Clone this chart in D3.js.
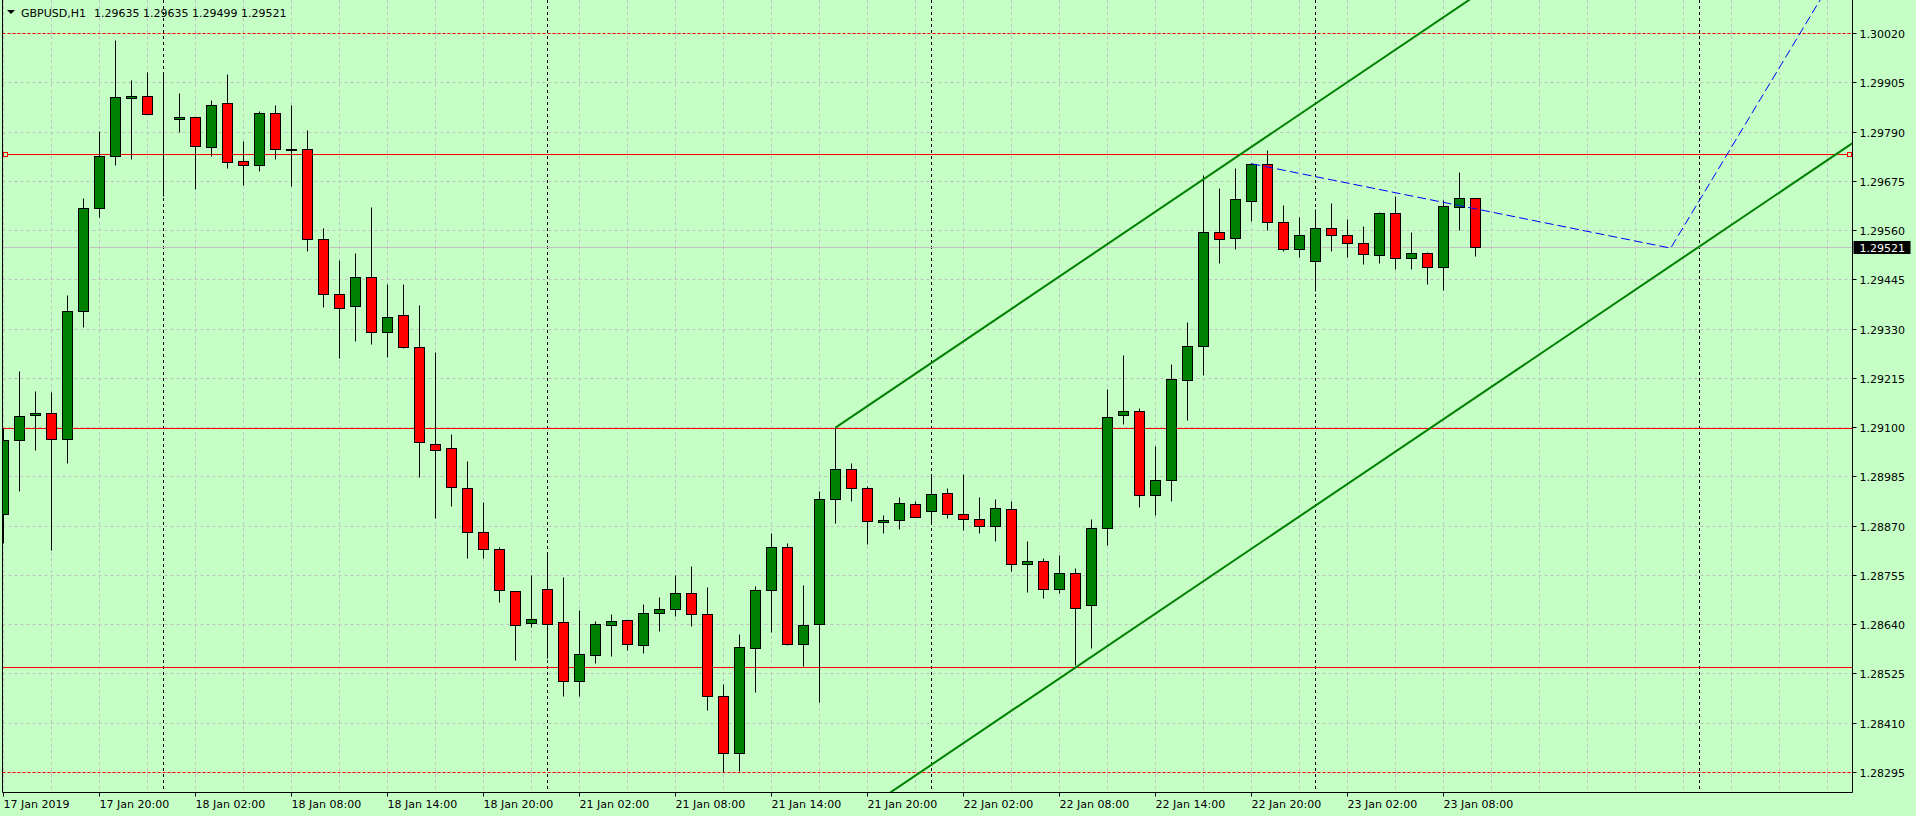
<!DOCTYPE html>
<html>
<head>
<meta charset="utf-8">
<script src="https://cdn.jsdelivr.net/npm/d3@7"></script>
<style>
	html, body { margin: 0; padding: 0; background: #c6ffc6; overflow: hidden; }
	svg { display: block; }
	text { font-family: "DejaVu Sans", sans-serif; font-size: 11px; fill: #000; }
</style>
</head>
<body>
<svg id="chart"></svg>
<script>
const totalWidth = 1916;
const totalHeight = 816;
const plot = { left: 2.5, right: 1852.5, top: 0, bottom: 792.5 };
const barStep = 16;

const symbolName = "GBPUSD,H1";
const lastQuote = "1.29635 1.29635 1.29499 1.29521";
const bidPrice = 1.29521;

// hourly bars, first one is 17 Jan 2019 14:00
const opens = [
	1.28898, 1.29069, 1.29129, 1.29134, 1.29073, 1.29372, 1.29611, 1.29732, 1.29868, 1.29872,
	1.29819, 1.29819, 1.29825, 1.29754, 1.29856, 1.29721, 1.29711, 1.29833, 1.29750, 1.29749,
	1.29538, 1.29410, 1.29382, 1.29450, 1.29321, 1.29361, 1.29286, 1.29061, 1.29052, 1.28958,
	1.28855, 1.28816, 1.28718, 1.28643, 1.28722, 1.28645, 1.28508, 1.28568, 1.28638, 1.28650,
	1.28592, 1.28666, 1.28676, 1.28713, 1.28664, 1.28472, 1.28339, 1.28585, 1.28720, 1.28820,
	1.28594, 1.28641, 1.28933, 1.29002, 1.28958, 1.28878, 1.28883, 1.28920, 1.28904, 1.28946,
	1.28897, 1.28885, 1.28869, 1.28909, 1.28780, 1.28787, 1.28721, 1.28759, 1.28684, 1.28864,
	1.29128, 1.29137, 1.28941, 1.28976, 1.29210, 1.29289, 1.29555, 1.29541, 1.29627, 1.29714,
	1.29578, 1.29515, 1.29487, 1.29564, 1.29548, 1.29529, 1.29501, 1.29599, 1.29494, 1.29506,
	1.29473, 1.29613, 1.29635
];
const highs = [
	1.29099, 1.29230, 1.29184, 1.29182, 1.29409, 1.29636, 1.29791, 1.30004, 1.29910, 1.29929,
	1.29928, 1.29880, 1.29825, 1.29863, 1.29924, 1.29768, 1.29837, 1.29853, 1.29853, 1.29793,
	1.29564, 1.29490, 1.29506, 1.29615, 1.29435, 1.29435, 1.29385, 1.29275, 1.29085, 1.29022,
	1.28925, 1.28820, 1.28718, 1.28756, 1.28804, 1.28751, 1.28672, 1.28648, 1.28664, 1.28650,
	1.28687, 1.28704, 1.28755, 1.28777, 1.28728, 1.28500, 1.28616, 1.28730, 1.28852, 1.28830,
	1.28732, 1.28952, 1.29100, 1.29017, 1.28962, 1.28895, 1.28937, 1.28928, 1.28988, 1.28958,
	1.28990, 1.28937, 1.28932, 1.28927, 1.28834, 1.28794, 1.28802, 1.28771, 1.28886, 1.29190,
	1.29269, 1.29144, 1.29055, 1.29248, 1.29346, 1.29689, 1.29658, 1.29705, 1.29716, 1.29747,
	1.29619, 1.29590, 1.29609, 1.29623, 1.29586, 1.29569, 1.29603, 1.29640, 1.29556, 1.29508,
	1.29630, 1.29696, 1.29635
];
const lows = [
	1.28830, 1.28952, 1.29047, 1.28813, 1.29017, 1.29334, 1.29590, 1.29713, 1.29725, 1.29830,
	1.29640, 1.29789, 1.29655, 1.29733, 1.29705, 1.29666, 1.29699, 1.29727, 1.29663, 1.29510,
	1.29381, 1.29262, 1.29301, 1.29294, 1.29264, 1.29284, 1.28984, 1.28887, 1.28915, 1.28794,
	1.28794, 1.28691, 1.28556, 1.28633, 1.28560, 1.28472, 1.28472, 1.28549, 1.28565, 1.28579,
	1.28572, 1.28624, 1.28659, 1.28635, 1.28439, 1.28295, 1.28298, 1.28481, 1.28621, 1.28591,
	1.28542, 1.28458, 1.28876, 1.28927, 1.28828, 1.28854, 1.28863, 1.28890, 1.28878, 1.28889,
	1.28859, 1.28854, 1.28835, 1.28764, 1.28716, 1.28702, 1.28712, 1.28544, 1.28585, 1.28826,
	1.29108, 1.28913, 1.28894, 1.28927, 1.29116, 1.29222, 1.29484, 1.29515, 1.29580, 1.29561,
	1.29512, 1.29498, 1.29417, 1.29510, 1.29498, 1.29480, 1.29484, 1.29470, 1.29468, 1.29433,
	1.29420, 1.29559, 1.29499
];
const closes = [
	1.29069, 1.29127, 1.29134, 1.29073, 1.29372, 1.29611, 1.29732, 1.29870, 1.29872, 1.29830,
	1.29819, 1.29823, 1.29757, 1.29853, 1.29718, 1.29711, 1.29833, 1.29750, 1.29746, 1.29538,
	1.29410, 1.29379, 1.29450, 1.29321, 1.29358, 1.29286, 1.29065, 1.29047, 1.28960, 1.28855,
	1.28816, 1.28720, 1.28638, 1.28652, 1.28641, 1.28508, 1.28571, 1.28641, 1.28648, 1.28594,
	1.28666, 1.28676, 1.28713, 1.28664, 1.28472, 1.28339, 1.28587, 1.28720, 1.28820, 1.28594,
	1.28638, 1.28933, 1.29003, 1.28958, 1.28881, 1.28883, 1.28923, 1.28890, 1.28944, 1.28897,
	1.28885, 1.28869, 1.28911, 1.28780, 1.28787, 1.28721, 1.28759, 1.28677, 1.28864, 1.29124,
	1.29137, 1.28941, 1.28976, 1.29212, 1.29289, 1.29555, 1.29539, 1.29632, 1.29714, 1.29578,
	1.29515, 1.29548, 1.29564, 1.29548, 1.29529, 1.29503, 1.29599, 1.29494, 1.29506, 1.29473,
	1.29616, 1.29635, 1.29521
];

const timeTickBars = [0, 6, 12, 18, 24, 30, 36, 42, 48, 54, 60, 66, 72, 78, 84, 90];
const timeTickLabels = [
	"17 Jan 2019", "17 Jan 20:00", "18 Jan 02:00", "18 Jan 08:00", "18 Jan 14:00", "18 Jan 20:00",
	"21 Jan 02:00", "21 Jan 08:00", "21 Jan 14:00", "21 Jan 20:00", "22 Jan 02:00", "22 Jan 08:00",
	"22 Jan 14:00", "22 Jan 20:00", "23 Jan 02:00", "23 Jan 08:00"
];
const daySeparatorBars = [10, 34, 58, 82, 106];

const priceTicks = [
	"1.28295", "1.28410", "1.28525", "1.28640", "1.28755", "1.28870", "1.28985", "1.29100",
	"1.29215", "1.29330", "1.29445", "1.29560", "1.29675", "1.29790", "1.29905", "1.30020"
];

const redLevels = [1.29737, 1.29098, 1.28540];
const redDottedLevels = [1.30020, 1.28295];
const markedLevel = 1.29737;

// equidistant channel and the blue forecast path, as [bar, price]
const channelUpper = [[52, 1.29100], [95, 1.30184]];
const channelLower = [[52, 1.28162], [116, 1.29775]];
const forecastPath = [[78, 1.29716], [104.2, 1.29519], [114, 1.30127]];

const xAxis = d3.scaleLinear().domain([0, 115]).range([3.5, 3.5 + barStep * 115]);
const yAxis = d3.scaleLinear().domain([1.28295, 1.30020]).range([772.5, 33.5]);
const py = (p) => Math.round(yAxis(p) - 0.5) + 0.5;

const svg = d3.select("#chart").attr("width", totalWidth).attr("height", totalHeight);

svg.append("defs")
	.append("clipPath")
	.attr("id", "plotClip")
	.append("rect")
	.attr("x", plot.left + 0.5)
	.attr("y", plot.top)
	.attr("width", plot.right - plot.left - 1)
	.attr("height", plot.bottom - plot.top);

const graphArea = svg.append("g").attr("clip-path", "url(#plotClip)");

// grid
graphArea
	.append("g")
	.selectAll("line")
	.data(priceTicks)
	.join("line")
	.attr("x1", plot.left)
	.attr("x2", plot.right)
	.attr("y1", (d) => py(+d))
	.attr("y2", (d) => py(+d))
	.attr("stroke", "#c0c0c0")
	.attr("stroke-dasharray", "3,3");

graphArea
	.append("g")
	.selectAll("line")
	.data(d3.range(0, 116, 3))
	.join("line")
	.attr("x1", (d) => xAxis(d))
	.attr("x2", (d) => xAxis(d))
	.attr("y1", plot.top)
	.attr("y2", plot.bottom)
	.attr("stroke", "#c0c0c0")
	.attr("stroke-dasharray", "3,3");

graphArea
	.append("g")
	.selectAll("line")
	.data(daySeparatorBars)
	.join("line")
	.attr("x1", (d) => xAxis(d))
	.attr("x2", (d) => xAxis(d))
	.attr("y1", plot.top)
	.attr("y2", plot.bottom)
	.attr("stroke", "#000")
	.attr("stroke-dasharray", "3,3");

// horizontal levels
graphArea
	.append("line")
	.attr("x1", plot.left)
	.attr("x2", plot.right)
	.attr("y1", py(bidPrice))
	.attr("y2", py(bidPrice))
	.attr("stroke", "#c0c0c0");

graphArea
	.append("g")
	.selectAll("line")
	.data(redDottedLevels)
	.join("line")
	.attr("x1", plot.left)
	.attr("x2", plot.right)
	.attr("y1", (d) => py(d))
	.attr("y2", (d) => py(d))
	.attr("stroke", "#ff0000")
	.attr("stroke-dasharray", "3,2");

graphArea
	.append("g")
	.selectAll("line")
	.data(redLevels)
	.join("line")
	.attr("x1", plot.left)
	.attr("x2", plot.right)
	.attr("y1", (d) => py(d))
	.attr("y2", (d) => py(d))
	.attr("stroke", "#ff0000");

// candles
const bars = opens.map((o, i) => ({ i, o, h: highs[i], l: lows[i], c: closes[i] }));
const candles = graphArea.append("g").selectAll("g").data(bars).join("g");

candles
	.append("line")
	.attr("x1", (d) => xAxis(d.i))
	.attr("x2", (d) => xAxis(d.i))
	.attr("y1", (d) => py(d.h))
	.attr("y2", (d) => py(d.l))
	.attr("stroke", "#000");

candles
	.append("rect")
	.attr("x", (d) => xAxis(d.i) - 5)
	.attr("width", 10)
	.attr("y", (d) => py(Math.max(d.o, d.c)))
	.attr("height", (d) => py(Math.min(d.o, d.c)) - py(Math.max(d.o, d.c)))
	.attr("fill", (d) => (d.c >= d.o ? "#008000" : "#ff0000"))
	.attr("stroke", "#000");

// channel and forecast
const line = d3
	.line()
	.x((d) => xAxis(d[0]))
	.y((d) => yAxis(d[1]));

for (const ch of [channelUpper, channelLower]) {
	graphArea
		.append("path")
		.datum(ch)
		.attr("fill", "none")
		.attr("stroke", "#008000")
		.attr("stroke-width", 2)
		.attr("d", line);
}

graphArea
	.append("path")
	.datum(forecastPath)
	.attr("fill", "none")
	.attr("stroke", "#0000ff")
	.attr("stroke-width", 1)
	.attr("stroke-dasharray", "9,4")
	.attr("d", line);

// selected level markers
graphArea
	.append("g")
	.selectAll("rect")
	.data([5.5, 1849.5])
	.join("rect")
	.attr("x", (d) => d - 2)
	.attr("y", py(markedLevel) - 2)
	.attr("width", 4)
	.attr("height", 4)
	.attr("fill", "#c6ffc6")
	.attr("stroke", "#ff0000");

// frame
svg.append("path")
	.attr("d", `M${plot.left},0V${plot.bottom}H${plot.right}V0`)
	.attr("fill", "none")
	.attr("stroke", "#000");

// price axis
const priceAxis = svg.append("g");
priceAxis
	.selectAll("line")
	.data(priceTicks)
	.join("line")
	.attr("x1", plot.right)
	.attr("x2", plot.right + 4)
	.attr("y1", (d) => py(+d))
	.attr("y2", (d) => py(+d))
	.attr("stroke", "#000");
priceAxis
	.selectAll("text")
	.data(priceTicks)
	.join("text")
	.attr("x", plot.right + 7)
	.attr("y", (d) => py(+d) + 4)
	.text((d) => d);

priceAxis
	.append("rect")
	.attr("x", plot.right + 1)
	.attr("y", py(bidPrice) - 6.5)
	.attr("width", 57)
	.attr("height", 13)
	.attr("fill", "#000");
priceAxis
	.append("text")
	.attr("x", plot.right + 7)
	.attr("y", py(bidPrice) + 4)
	.style("fill", "#fff")
	.text(bidPrice.toFixed(5));

// time axis
const timeAxis = svg.append("g");
timeAxis
	.selectAll("line")
	.data(timeTickBars)
	.join("line")
	.attr("x1", (d) => xAxis(d))
	.attr("x2", (d) => xAxis(d))
	.attr("y1", plot.bottom)
	.attr("y2", plot.bottom + 4)
	.attr("stroke", "#000");
timeAxis
	.selectAll("text")
	.data(timeTickLabels)
	.join("text")
	.attr("x", (d, i) => Math.max(xAxis(timeTickBars[i]), 3))
	.attr("y", 808)
	.text((d) => d);

// header
svg.append("path").attr("d", "M7,10H15L11,14Z").attr("fill", "#000");
svg.append("text").attr("x", 21).attr("y", 17).text(symbolName);
svg.append("text").attr("x", 94).attr("y", 17).text(lastQuote);
</script>
</body>
</html>
